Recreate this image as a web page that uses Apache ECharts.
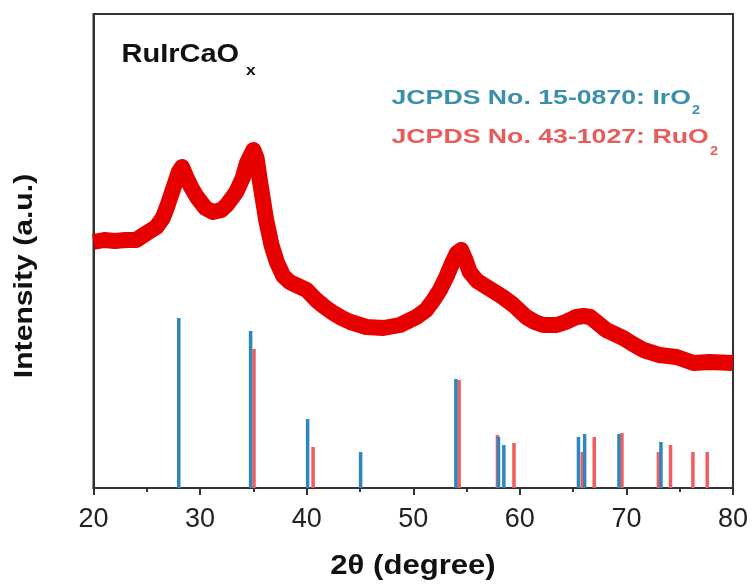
<!DOCTYPE html>
<html>
<head>
<meta charset="utf-8">
<script src="https://cdn.jsdelivr.net/npm/echarts@6/dist/echarts.min.js"></script>
<style>html,body{margin:0;padding:0;background:#fff;}#c{width:755px;height:584px;}</style>
</head>
<body>
<div id="c"></div>
<script>
// XRD pattern of RuIrCaOx: [2θ, intensity (a.u.)]
const xrdCurve = [
  [20.0,246],[21.0,248],[22.0,247],[23.0,248],[24.0,248],[25.0,255],[25.9,261],[26.5,270],
  [26.9,281],[27.5,300],[28.0,316],[28.3,321],[28.7,311],[29.2,300],[29.7,291],[30.5,280],
  [31.2,276],[32.0,278],[32.5,283],[33.4,296],[34.0,310],[34.4,325],[35.0,338],[35.3,330],
  [35.6,308],[36.2,268],[36.7,243],[37.2,226],[37.8,212],[38.4,206],[39.4,201],[40.0,198],
  [40.9,188],[41.7,181],[42.5,175],[43.3,170],[44.1,166],[45.6,161],[47.2,160],[48.75,163],
  [50.3,171],[51.2,178],[51.9,188],[52.5,198],[53.1,211],[53.7,226],[54.1,235],[54.5,238],
  [54.9,228],[55.3,216],[56.0,207],[56.9,201],[58.4,191],[59.4,183],[60.6,171],[61.4,166],
  [62.2,163],[63.45,163],[64.3,166],[65.3,171],[66.0,172],[66.6,171],[67.3,165],[68.1,158],
  [69.7,150],[70.6,144],[71.6,138],[73.1,133],[74.7,131],[76.3,125],[77.8,126],[80.0,125]
];
// JCPDS No. 15-0870: IrO2 reference lines [2θ, relative intensity]
const iro2Lines = [
  [28.0,170],[34.74,157],[40.09,69],[45.06,36],[54.0,109],[58.0,51],[58.5,43],
  [65.5,51],[66.08,54],[69.3,54],[73.24,46]
];
// JCPDS No. 43-1027: RuO2 reference lines [2θ, relative intensity]
const ruo2Lines = [
  [35.06,139],[40.6,41],[54.3,108],[57.9,53],[59.45,45],[65.86,36],[66.98,51],
  [69.58,55],[73.0,36],[74.14,43],[76.24,36],[77.58,36]
];
const xTicks = [20,30,40,50,60,70,80];
const sampleName = 'RuIrCaO';
const sampleSub = 'x';
const legendIr = 'JCPDS No. 15-0870: IrO';
const legendRu = 'JCPDS No. 43-1027: RuO';
const xTitle = '2θ (degree)';
const yTitle = 'Intensity (a.u.)';

const FF = '"Liberation Sans", Arial, sans-serif';
const BLUE = '#2F86BE', RED = '#F25C5C', CURVE = '#E60000';
const BLUE_T = '#3B8FA8', RED_T = '#E85B5B';

function stickRenderer(color) {
  return function (params, api) {
    const x = api.value(0), h = api.value(1);
    const p0 = api.coord([x, 0]);
    const p1 = api.coord([x, h]);
    return {
      type: 'rect',
      shape: { x: p0[0] - 1.75, y: p1[1], width: 3.5, height: p0[1] - p1[1] },
      style: { fill: color }
    };
  };
}

const chart = echarts.init(document.getElementById('c'), null, { renderer: 'canvas' });
chart.setOption({
  animation: false,
  backgroundColor: '#fff',
  grid: { left: 93.5, right: 22, top: 14, bottom: 96, show: true, borderColor: '#333', borderWidth: 2, backgroundColor: 'transparent' },
  xAxis: {
    type: 'value', min: xTicks[0], max: xTicks[xTicks.length - 1], interval: 10,
    axisLine: { show: true, lineStyle: { color: '#333', width: 2 } },
    axisTick: { show: true, inside: false, length: 7, lineStyle: { color: '#333', width: 2 } },
    minorTick: { show: true, splitNumber: 2, length: 4, lineStyle: { color: '#333', width: 2 } },
    splitLine: { show: false },
    axisLabel: { fontSize: 27, fontFamily: FF, color: '#222', margin: 18 }
  },
  yAxis: {
    type: 'value', min: 0, max: 474,
    axisLine: { show: true, lineStyle: { color: '#333', width: 2 } },
    axisTick: { show: false }, axisLabel: { show: false }, splitLine: { show: false }
  },
  series: [
    {
      type: 'line', data: xrdCurve, smooth: false, symbol: 'none',
      lineStyle: { color: CURVE, width: 16, join: 'round', cap: 'butt' }, z: 2
    },
    { type: 'custom', data: ruo2Lines, renderItem: stickRenderer(RED), z: 3 },
    { type: 'custom', data: iro2Lines, renderItem: stickRenderer(BLUE), z: 4 }
  ],
  graphic: [
    { type: 'text', x: 121.5, y: 55, scaleX: 1.16, style: { text: sampleName, fill: '#111', font: 'bold 25px ' + FF, align: 'left', verticalAlign: 'middle' } },
    { type: 'text', x: 246, y: 71, scaleX: 1.16, style: { text: sampleSub, fill: '#111', font: 'bold 15px ' + FF, align: 'left', verticalAlign: 'middle' } },
    { type: 'text', x: 391.5, y: 98, scaleX: 1.27, style: { text: legendIr, fill: BLUE_T, font: 'bold 21px ' + FF, align: 'left', verticalAlign: 'middle' } },
    { type: 'text', x: 692, y: 111, scaleX: 1.2, style: { text: '2', fill: BLUE_T, font: 'bold 12px ' + FF, align: 'left', verticalAlign: 'middle' } },
    { type: 'text', x: 391.5, y: 137, scaleX: 1.27, style: { text: legendRu, fill: RED_T, font: 'bold 21px ' + FF, align: 'left', verticalAlign: 'middle' } },
    { type: 'text', x: 710, y: 152, scaleX: 1.2, style: { text: '2', fill: RED_T, font: 'bold 12px ' + FF, align: 'left', verticalAlign: 'middle' } },
    { type: 'text', x: 413, y: 566, scaleX: 1.11, style: { text: xTitle, fill: '#111', font: 'bold 28px ' + FF, align: 'center', verticalAlign: 'middle' } },
    { type: 'text', x: 25, y: 276, rotation: Math.PI / 2, scaleX: 1.16, style: { text: yTitle, fill: '#111', font: 'bold 26px ' + FF, align: 'center', verticalAlign: 'middle' } }
  ]
});
</script>
</body>
</html>
